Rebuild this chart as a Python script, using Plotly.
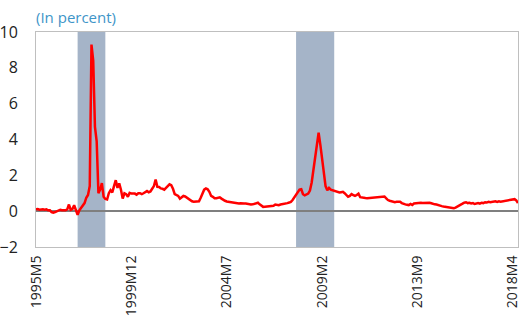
import plotly.graph_objects as go

# Monthly series starting 1995M5 (in percent)
start_year, start_month = 1995, 5
values = [
    0.10, 0.12, 0.08, 0.10, 0.10, 0.08, 0.10, 0.05, 0.05, -0.05, -0.08, -0.05,
    0.00, 0.05, 0.08, 0.05, 0.05, 0.05, 0.10, 0.37, 0.08, 0.12, 0.33, 0.05,
    -0.20, 0.05, 0.20, 0.35, 0.45, 0.75, 0.90, 1.40, 9.30, 8.40, 4.70, 3.90,
    1.00, 1.20, 1.57, 0.80, 0.68, 0.65, 1.00, 1.17, 1.05, 1.40, 1.73, 1.30,
    1.55, 1.20, 0.70, 1.00, 0.95, 0.80, 1.02, 0.98, 1.00, 0.98, 0.92, 1.00,
    1.00, 0.95, 1.00, 1.05, 1.12, 1.05, 1.10, 1.25, 1.40, 1.77, 1.36, 1.35,
    1.27, 1.25, 1.20, 1.30, 1.40, 1.50, 1.45, 1.25, 0.95, 0.90, 0.85, 0.70,
    0.80, 0.85, 0.82, 0.75, 0.65, 0.58, 0.55, 0.52, 0.52, 0.52, 0.55, 0.75,
    1.00, 1.20, 1.27, 1.22, 1.08, 0.85, 0.80, 0.72, 0.72, 0.75, 0.77, 0.70,
    0.62, 0.58, 0.54, 0.52, 0.50, 0.48, 0.47, 0.45, 0.44, 0.43, 0.44, 0.42,
    0.43, 0.43, 0.40, 0.40, 0.37, 0.38, 0.40, 0.43, 0.47, 0.38, 0.28, 0.24,
    0.25, 0.26, 0.28, 0.27, 0.28, 0.30, 0.37, 0.35, 0.33, 0.37, 0.38, 0.40,
    0.43, 0.45, 0.48, 0.52, 0.62, 0.77, 0.95, 1.08, 1.20, 1.22, 0.95, 0.88,
    0.92, 0.98, 1.15, 1.60, 2.30, 3.00, 3.70, 4.38, 3.70, 2.90, 2.10, 1.40,
    1.17, 1.30, 1.20, 1.17, 1.10, 1.10, 1.05, 1.04, 1.06, 1.08, 1.00, 0.92,
    0.80, 0.85, 0.95, 0.90, 0.85, 0.90, 0.98, 0.78, 0.75, 0.74, 0.73, 0.72,
    0.73, 0.72, 0.73, 0.74, 0.77, 0.80, 0.80, 0.82, 0.83, 0.82, 0.72, 0.62,
    0.58, 0.55, 0.53, 0.50, 0.52, 0.53, 0.52, 0.45, 0.40, 0.38, 0.36, 0.34,
    0.40, 0.35, 0.43, 0.45, 0.46, 0.47, 0.47, 0.46, 0.47, 0.47, 0.48, 0.47,
    0.44, 0.40, 0.38, 0.37, 0.33, 0.30, 0.28, 0.26, 0.24, 0.22, 0.20, 0.18,
    0.18, 0.17, 0.20, 0.25, 0.28, 0.35, 0.42, 0.48, 0.50, 0.45, 0.47, 0.43,
    0.45, 0.40, 0.43, 0.45, 0.42, 0.47, 0.45, 0.50, 0.48, 0.52, 0.50, 0.53,
    0.52, 0.55, 0.52, 0.55, 0.53, 0.55, 0.55, 0.55, 0.58, 0.60, 0.62, 0.65,
    0.67, 0.60, 0.45,
]

# Shaded crisis periods (start, end)
crisis_periods = [("1997M5", "1998M9"), ("2007M11", "2009M9")]

# Labelled periods on the horizontal axis
tick_labels = ["1995M5", "1999M12", "2004M7", "2009M2", "2013M9", "2018M4"]


def period_name(i):
    m = start_month - 1 + i
    return f"{start_year + m // 12}M{m % 12 + 1}"


periods = [period_name(i) for i in range(len(values))]
pos = {p: i for i, p in enumerate(periods)}
x = list(range(len(values)))

fig = go.Figure()
fig.add_trace(go.Scatter(
    x=x, y=values, mode="lines",
    line=dict(color="#FF0000", width=2.5),
    hoverinfo="skip", showlegend=False,
))

for p0, p1 in crisis_periods:
    fig.add_shape(type="rect", xref="x", yref="paper",
                  x0=pos[p0], x1=pos[p1], y0=0, y1=1,
                  fillcolor="#A5B4C8", line_width=0, layer="below")

font_family = "Open Sans, Noto Sans, sans-serif"

fig.update_layout(
    width=521, height=322,
    margin=dict(l=36, r=3, t=32, b=75),
    paper_bgcolor="white", plot_bgcolor="white",
    font=dict(family=font_family, size=15, color="#222222"),
    showlegend=False,
    xaxis=dict(
        range=[0, len(values) - 1],
        tickmode="array",
        tickvals=[pos[t] for t in tick_labels],
        ticktext=tick_labels,
        tickangle=-90,
        showgrid=False, zeroline=False,
        showline=True, linecolor="#BFBFBF", linewidth=1, mirror=True,
        ticks="", ticklabelstandoff=2,
        ticklabeloverflow="allow",
        tickfont=dict(size=14, color="#222222"),
        automargin=False,
    ),
    yaxis=dict(
        range=[-2, 10], dtick=2, tick0=-2,
        showgrid=False,
        zeroline=True, zerolinecolor="#7F7F7F", zerolinewidth=1.5,
        showline=True, linecolor="#BFBFBF", linewidth=1, mirror=True,
        ticks="", ticklabelstandoff=14,
        tickfont=dict(size=16, color="#222222"),
        automargin=False,
    ),
    annotations=[dict(
        text="(In percent)", xref="paper", yref="paper",
        x=0, y=1, xanchor="left", yanchor="bottom", yshift=3, xshift=-2,
        showarrow=False, font=dict(size=15, color="#3E95C8", family=font_family),
    )],
)

fig.write_html("out.html")
